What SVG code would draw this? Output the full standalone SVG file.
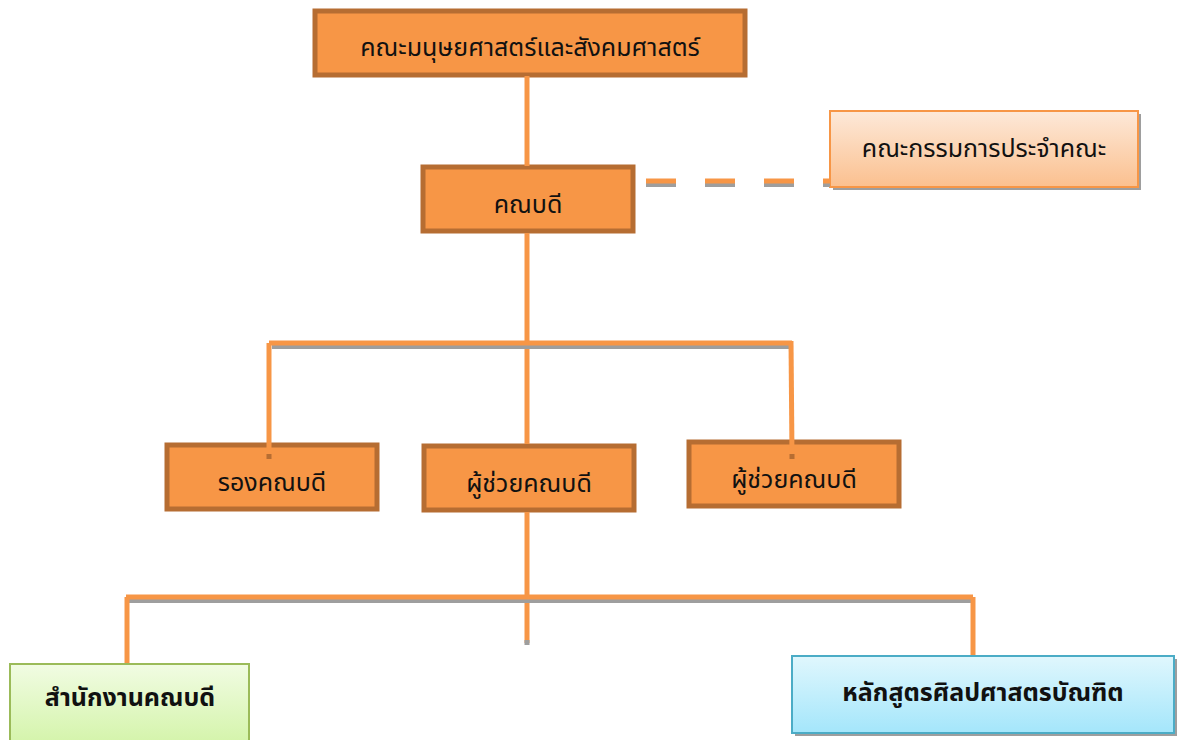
<svg xmlns="http://www.w3.org/2000/svg" width="1184" height="740" viewBox="0 0 1184 740">
<style>
.ob{fill:#F79646;stroke:#B66D32;stroke-width:5}
.t{font-family:"Noto Sans Thai","Noto Sans","DejaVu Sans",sans-serif;font-size:25px;fill:#111;text-anchor:middle}
.tb{font-family:"Noto Sans Thai","Noto Sans","DejaVu Sans",sans-serif;font-size:25px;font-weight:bold;fill:#111;text-anchor:middle}
.ln{stroke:#F79646;stroke-width:5;fill:none}
.sh{stroke:#9E9E9E;stroke-width:4;fill:none}
</style>
<defs>
<linearGradient id="gO" x1="0" y1="0" x2="0" y2="1"><stop offset="0" stop-color="#FDE9D9"/><stop offset="1" stop-color="#FBC08F"/></linearGradient>
<linearGradient id="gG" x1="0" y1="0" x2="0" y2="1"><stop offset="0" stop-color="#F1FCE3"/><stop offset="1" stop-color="#D4F4AA"/></linearGradient>
<linearGradient id="gB" x1="0" y1="0" x2="0" y2="1"><stop offset="0" stop-color="#E0F7FD"/><stop offset="1" stop-color="#A4E6FB"/></linearGradient>
</defs>
<g id="n-faculty">
<rect class="ob" x="315" y="11" width="430" height="64"/>
<text class="t" x="530" y="56">คณะมนุษยศาสตร์และสังคมศาสตร์</text>
</g>
<g id="n-dean">
<rect class="ob" x="423" y="167" width="210" height="64"/>
<text class="t" x="528" y="213">คณบดี</text>
</g>
<g id="n-committee">
<rect x="833" y="114" width="308" height="76" fill="#9E9E9E"/>
<rect x="830" y="111" width="308" height="76" fill="url(#gO)" stroke="#F79646" stroke-width="2"/>
<text class="t" x="984" y="157">คณะกรรมการประจำคณะ</text>
</g>
<g id="n-vicedean">
<rect class="ob" x="167" y="445" width="210" height="64"/>
<text class="t" x="272" y="491">รองคณบดี</text>
</g>
<g id="n-asst1">
<rect class="ob" x="424" y="446" width="210" height="64"/>
<text class="t" x="529" y="492">ผู้ช่วยคณบดี</text>
</g>
<g id="n-asst2">
<rect class="ob" x="689" y="442" width="210" height="64"/>
<text class="t" x="794" y="488">ผู้ช่วยคณบดี</text>
</g>
<g id="n-office">
<rect x="10" y="664" width="239" height="80" fill="url(#gG)" stroke="#9BBB59" stroke-width="2"/>
<text class="tb" x="130" y="706">สำนักงานคณบดี</text>
</g>
<g id="n-program">
<rect x="795" y="659" width="382" height="77" fill="#9E9E9E"/>
<rect x="792" y="656" width="382" height="77" fill="url(#gB)" stroke="#4BACC6" stroke-width="2"/>
<text class="tb" x="983" y="701">หลักสูตรศิลปศาสตรบัณฑิต</text>
</g>
<g id="connectors">
<line class="ln" x1="527" y1="76" x2="527" y2="166"/>
<line class="sh" x1="646" y1="185" x2="830" y2="185" stroke-dasharray="30 29"/>
<line class="ln" x1="646" y1="181" x2="830" y2="181" stroke-dasharray="30 29"/>
<line class="ln" x1="527" y1="233" x2="527" y2="444"/>
<line class="sh" x1="272" y1="347" x2="792" y2="347"/>
<line class="ln" x1="269" y1="343" x2="792" y2="343"/>
<polyline class="ln" points="269,343 269,455"/>
<polyline class="ln" points="791,341 792,455"/>
<rect x="266.5" y="454" width="5" height="5" fill="#B66D32"/>
<rect x="789.5" y="454" width="5" height="5" fill="#B66D32"/>
<line class="ln" x1="527" y1="512" x2="527" y2="643"/>
<rect x="524.5" y="640" width="5" height="5" fill="#9E9E9E"/>
<line class="sh" x1="128" y1="601" x2="973" y2="601"/>
<line class="ln" x1="126" y1="597" x2="973" y2="597"/>
<line class="ln" x1="127" y1="597" x2="127" y2="663"/>
<line class="ln" x1="973" y1="597" x2="973" y2="655"/>
</g>
</svg>
